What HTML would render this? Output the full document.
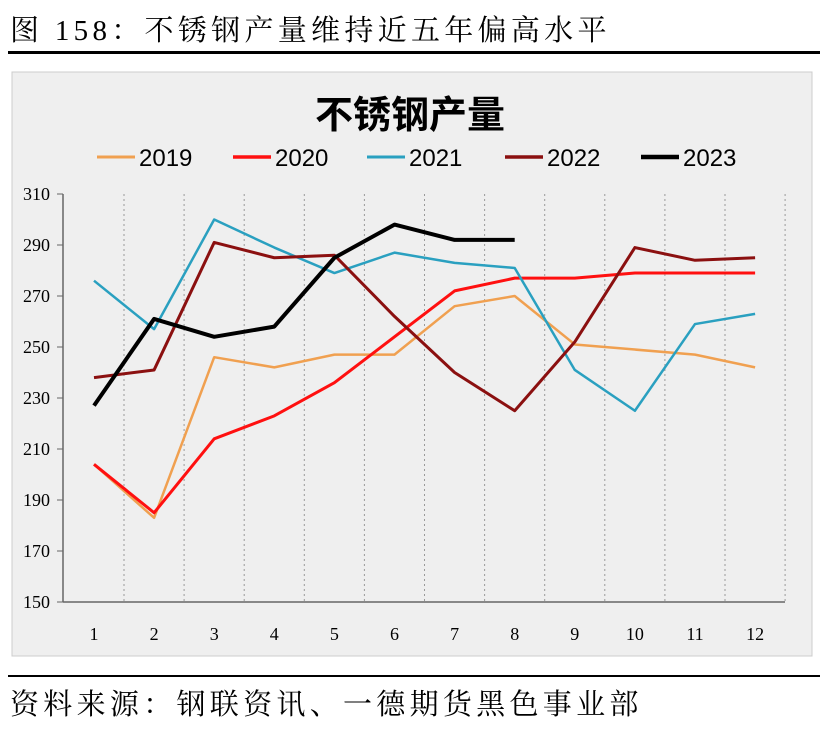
<!DOCTYPE html>
<html><head><meta charset="utf-8"><style>
body{margin:0;width:830px;height:729px;background:#fff;font-family:"Liberation Sans","Noto Sans CJK SC",sans-serif;overflow:hidden;position:relative}
.t{position:absolute;left:10px;font-size:29px;color:#000;letter-spacing:4.3px;font-family:"Liberation Serif","Noto Serif CJK SC",serif;white-space:nowrap}
</style></head><body>
<div class="t" style="top:8px">图 158：不锈钢产量维持近五年偏高水平</div>
<div style="position:absolute;left:8px;top:51px;width:812px;height:3px;background:#000"></div>
<svg id="c" width="830" height="729" style="position:absolute;left:0;top:0"></svg>
<div style="position:absolute;left:8px;top:675px;width:812px;height:2px;background:#000"></div>
<div class="t" style="top:682px;font-size:29px;letter-spacing:4.3px">资料来源：钢联资讯、一德期货黑色事业部</div>
<script>
const months=[1,2,3,4,5,6,7,8,9,10,11,12];
const yTicks=[150,170,190,210,230,250,270,290,310];
const seriesNames=["2019","2020","2021","2022","2023"];
const colors=["#f0a050","#ff1010","#2aa0c0","#8b1010","#000000"];
const widths=[2.5,3,2.5,3,4];
const s2019=[204,183,246,242,247,247,266,270,251,249,247,242];
const s2020=[204,185,214,223,236,254,272,277,277,279,279,279];
const s2021=[276,257,300,289,279,287,283,281,241,225,259,263];
const s2022=[238,241,291,285,286,262,240,225,252,289,284,285];
const s2023=[227,261,254,258,285,298,292,292];
const allSeries=[s2019,s2020,s2021,s2022,s2023];
const svg=document.getElementById('c');const NS='http://www.w3.org/2000/svg';
function el(t,a,p){const e=document.createElementNS(NS,t);for(const k in a)e.setAttribute(k,a[k]);(p||svg).appendChild(e);return e;}
const x=m=>94+(m-1)*60.1;const y=v=>602-(v-150)*2.55;
let e=el('rect',{x:12,y:72,width:800,height:584,fill:'#efefef',stroke:'#ccc'});

e=el('text',{x:410,y:128,'text-anchor':'middle','font-size':38,'font-weight':'bold',fill:'#000','font-family':'"Liberation Sans","Noto Sans CJK SC",sans-serif'});e.textContent='不锈钢产量';

for(let i=0;i<12;i++){const gx=x(months[i])+30;e=el('line',{x1:gx,y1:194,x2:gx,y2:602,stroke:'#999','stroke-dasharray':'2,3'});
}
e=el('line',{x1:63,y1:194,x2:63,y2:602,stroke:'#666','stroke-width':1.5});
e=el('line',{x1:63,y1:602,x2:785,y2:602,stroke:'#666','stroke-width':1.5});
yTicks.forEach(v=>{e=el('line',{x1:57,y1:y(v),x2:63,y2:y(v),stroke:'#666'});
e=el('text',{x:50,y:y(v)+6,'text-anchor':'end','font-size':18,'font-family':'Liberation Serif',fill:'#000'});e.textContent=v;
});
months.forEach(m=>{e=el('text',{x:x(m),y:640,'text-anchor':'middle','font-size':18,'font-family':'Liberation Serif',fill:'#000'});e.textContent=m;
});
allSeries.forEach((s,i)=>{e=el('polyline',{points:s.map((v,j)=>x(months[j])+','+y(v)).join(' '),fill:'none',stroke:colors[i],'stroke-width':widths[i],'stroke-linejoin':'round'});
});
const lx=[97,233,367,505,641];
seriesNames.forEach((n,i)=>{e=el('line',{x1:lx[i],y1:157,x2:lx[i]+38,y2:157,stroke:colors[i],'stroke-width':widths[i]+0.5});

e=el('text',{x:lx[i]+42,y:166,'font-size':24,fill:'#000'});e.textContent=n;
});
</script>
</body></html>
